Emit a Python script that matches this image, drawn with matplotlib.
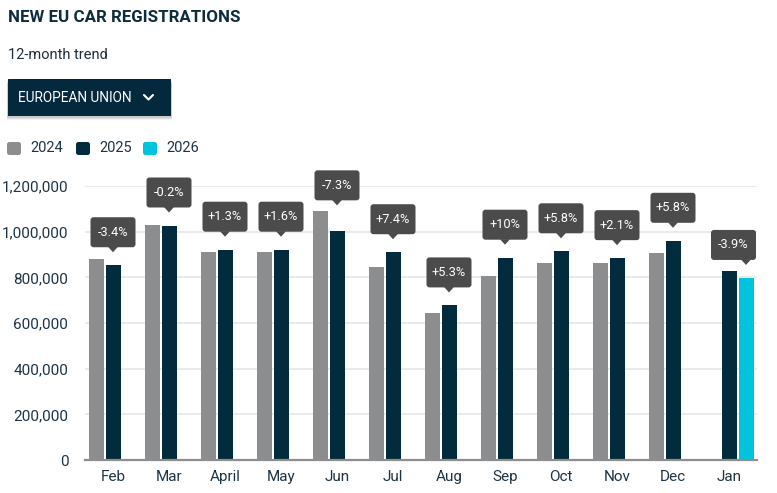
import matplotlib
matplotlib.use('Agg')
import matplotlib.pyplot as plt
from matplotlib.patches import FancyBboxPatch, Polygon
from matplotlib.lines import Line2D
from matplotlib.transforms import IdentityTransform
import matplotlib.ticker as mticker

# ---------------- data ----------------
months = ['Feb', 'Mar', 'April', 'May', 'Jun', 'Jul', 'Aug', 'Sep', 'Oct', 'Nov', 'Dec', 'Jan']
reg_2024 = [882000, 1029000, 911000, 911000, 1089000, 846000, 644000, 806000, 864000, 864000, 908000, None]
reg_2025 = [853000, 1027000, 921000, 921000, 1005000, 910000, 677000, 886000, 914000, 884000, 960000, 828000]
reg_2026 = [None, None, None, None, None, None, None, None, None, None, None, 795000]
changes = ['-3.4%', '-0.2%', '+1.3%', '+1.6%', '-7.3%', '+7.4%', '+5.3%', '+10%',
           '+5.8%', '+2.1%', '+5.8%', '-3.9%']
series_names = ['2024', '2025', '2026']
yticks = [0, 200000, 400000, 600000, 800000, 1000000, 1200000]

# ---------------- style ----------------
C24 = '#8b8d8e'
C25 = '#022b3e'
C26 = '#00c4dc'
NAVY = '#0f2c3f'
TXT = '#1d3446'
TIP = '#4b4b4b'
FONT = 'Roboto'

W, H = 777, 493
fig = plt.figure(figsize=(W / 100, H / 100), dpi=100)
fig.patch.set_facecolor('white')

ax_left, ax_right, ax_bottom, ax_top = 85, 757, 460, 186  # pixel (top-based y)
ax = fig.add_axes([ax_left / W, (H - ax_bottom) / H,
                   (ax_right - ax_left) / W, (ax_bottom - ax_top) / H])

n = len(months)
xs = list(range(n))
bw = 15 / 56
off = 17 / 56

for vals, o, c in [(reg_2024, -off, C24), (reg_2025, 0, C25), (reg_2026, off, C26)]:
    px = [x + o for x, v in zip(xs, vals) if v is not None]
    pv = [v for v in vals if v is not None]
    ax.bar(px, pv, width=bw, color=c, zorder=3, linewidth=0)

ax.set_xlim(-0.5, n - 0.5)
ax.set_ylim(0, 1200000)
ax.set_yticks(yticks)
ax.yaxis.set_major_formatter(mticker.FuncFormatter(lambda v, p: f'{int(v):,}'))
ax.set_xticks(xs)
ax.set_xticklabels(months)
ax.grid(axis='y', color='#e6e6e6', linewidth=1.2, zorder=0)
ax.set_axisbelow(True)
for s in ['top', 'right', 'left']:
    ax.spines[s].set_visible(False)
ax.spines['bottom'].set_color('#8e8e8e')
ax.spines['bottom'].set_linewidth(1.6)
ax.spines['bottom'].set_zorder(4)
ax.tick_params(axis='both', length=0, colors=TXT, labelsize=11)
ax.tick_params(axis='y', pad=12)
ax.tick_params(axis='x', pad=7)
for lab in ax.get_xticklabels() + ax.get_yticklabels():
    lab.set_fontfamily(FONT)
    lab.set_color(TXT)

# ---------------- tooltips ----------------
ident = IdentityTransform()
ax_right_disp = ax.transData.transform((n - 0.5, 0))[0]
for i in range(n):
    if reg_2026[i] is not None:
        bx, btop = i + off, reg_2026[i]
    else:
        bx, btop = i, reg_2025[i]
    tops = [v for v in (reg_2024[i], reg_2025[i], reg_2026[i]) if v is not None]
    px, py = ax.transData.transform((bx, btop))
    _, pmax = ax.transData.transform((bx, max(tops)))
    tip = max(py + 13, pmax + 6)
    bwid, bhei = 45, 30
    cx = px
    if cx + bwid / 2 > ax_right_disp - 1:
        cx = ax_right_disp - 1 - bwid / 2
    box = FancyBboxPatch((cx - bwid / 2, tip + 5), bwid, bhei,
                         boxstyle='round,pad=0,rounding_size=3',
                         transform=ident, fc=TIP, ec='none', zorder=10)
    fig.add_artist(box)
    tri = Polygon([(px - 5, tip + 5.5), (px + 5, tip + 5.5), (px, tip)], closed=True,
                  transform=ident, fc=TIP, ec='none', zorder=10)
    fig.add_artist(tri)
    fig.text(cx, tip + 5 + bhei / 2, changes[i], transform=ident, ha='center', va='center',
             color='white', fontsize=9.2, fontfamily=FONT, zorder=11)

# ---------------- header ----------------
def Y(p):
    return H - p

fig.text(8, Y(22), 'NEW EU CAR REGISTRATIONS', transform=ident, ha='left', va='baseline',
         color=NAVY, fontsize=12.2, fontweight='bold', fontfamily=FONT)
fig.text(8, Y(59), '12-month trend', transform=ident, ha='left', va='baseline',
         color='#1e2d38', fontsize=10.5, fontfamily=FONT)

# dropdown with shadow
for k, a in [(4, 0.05), (3, 0.07), (2, 0.09)]:
    sh = FancyBboxPatch((8 - 1, Y(116) - k), 163 + 2, 37, boxstyle='round,pad=0,rounding_size=1',
                        transform=ident, fc='black', ec='none', alpha=a, zorder=1)
    fig.add_artist(sh)
dd = FancyBboxPatch((8, Y(116)), 163, 37, boxstyle='round,pad=0,rounding_size=0.5',
                    transform=ident, fc='#04293d', ec='none', zorder=2)
fig.add_artist(dd)
fig.text(18, Y(97.5), 'EUROPEAN UNION', transform=ident, ha='left', va='center',
         color='white', fontsize=9.8, fontfamily=FONT, zorder=3)
fig.add_artist(Line2D([144, 148.5, 153], [Y(95), Y(99.5), Y(95)], transform=ident,
                      color='white', lw=1.5, solid_capstyle='round', zorder=3))

# legend
leg_x = [7, 76, 143]
for xq, name, c in zip(leg_x, series_names, [C24, C25, C26]):
    sq = FancyBboxPatch((xq, Y(155)), 14, 13, boxstyle='round,pad=0,rounding_size=2.5',
                        transform=ident, fc=c, ec='none')
    fig.add_artist(sq)
    fig.text(xq + 23, Y(148.5), name, transform=ident, ha='left', va='center',
             color=TXT, fontsize=10.5, fontfamily=FONT)

fig.savefig('out.png', dpi=100, facecolor='white')
